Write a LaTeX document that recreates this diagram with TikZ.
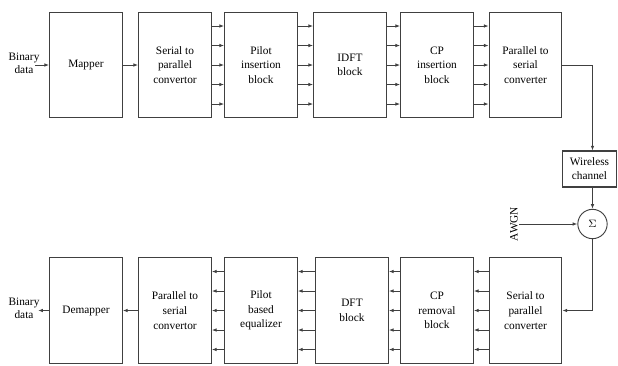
\documentclass[tikz,border=0pt]{standalone}
\usepackage{fontspec}
\setmainfont{Liberation Serif}
\usetikzlibrary{arrows.meta, positioning, calc}
\tikzset{
    blk/.style={
        draw=black!75,
        line width=0.8pt,
        minimum width=54.5pt,
        minimum height=79pt,
        align=center,
        font=\fontsize{8.5}{11}\selectfont
    },
    smallblk/.style={
        draw=black!75,
        line width=0.8pt,
        minimum width=41pt,
        minimum height=27pt,
        inner sep=1pt,
        align=center,
        font=\fontsize{8.5}{10.5}\selectfont
    },
    adder/.style={draw=black!75, line width=0.7pt, circle, minimum size=22pt, inner sep=0pt, font=\fontsize{8.5}{10}\selectfont},
    line/.style={-{Latex[length=3.5pt,width=2.6pt]}, draw=black!75, line width=0.6pt},
    note/.style={font=\fontsize{8.5}{10}\selectfont, align=center, inner sep=1pt}
}

\begin{document}
\begin{tikzpicture}[x=0.75pt, y=-0.75pt]
\useasboundingbox (0,0) rectangle (618,365);

% transmitter
\node[blk] (map) at (86,65) {Mapper};
\node[blk] (sp) at (175,65) {Serial to\\parallel\\convertor};
\node[blk] (pins) at (261,65) {Pilot\\insertion\\block};
\node[blk] (idft) at (350,65) {IDFT\\block};
\node[blk] (cpins) at (437,65) {CP\\insertion\\block};
\node[blk] (ps) at (525.5,65) {Parallel to\\serial\\converter};

% receiver
\node[blk] (demap) at (86,310.5) {Demapper};
\node[blk] (psr) at (175,310.5) {Parallel to\\serial\\convertor};
\node[blk] (peq) at (261,310.5) {Pilot\\based\\equalizer};
\node[blk] (dft) at (352,310.5) {DFT\\block};
\node[blk] (cprem) at (437,310.5) {CP\\removal\\block};
\node[blk] (spr) at (525.5,310.5) {Serial to\\parallel\\converter};

% channel
\node[smallblk] (chan) at (589.5,169) {Wireless\\channel};
\node[adder] (sum) at (592.5,224) {$\Sigma$};
\node[note, rotate=90] (awgn) at (514,224) {AWGN};

\node[note] (bin) at (24,63) {Binary\\data};
\node[note] (bout) at (24,308) {Binary\\data};

% single links
\draw[line] (bin.east |- map.west) ++(-6,0) -- (map.west);
\draw[line] (map) -- (sp);
\draw[line] (demap.west) -- ++(-11,0);
\draw[line] (psr) -- (demap);

% parallel links
\foreach \a/\b in {sp/pins, pins/idft, idft/cpins, cpins/ps}
    \foreach \k in {-2,...,2}
        \draw[line] ($(\a.east)+(0,19.5*\k)$) -- ($(\b.west)+(0,19.5*\k)$);
\foreach \a/\b in {spr/cprem, cprem/dft, dft/peq, peq/psr}
    \foreach \k in {-2,...,2}
        \draw[line] ($(\a.west)+(0,19.5*\k)$) -- ($(\b.east)+(0,19.5*\k)$);

% channel path
\draw[line] (ps.east) -| (chan.north -| sum.north);
\draw[line] (chan.south -| sum.north) -- (sum.north);
\draw[line] (awgn.south) -- (sum.west);
\draw[line] (sum.south) |- (spr.east);

\end{tikzpicture}
\end{document}
